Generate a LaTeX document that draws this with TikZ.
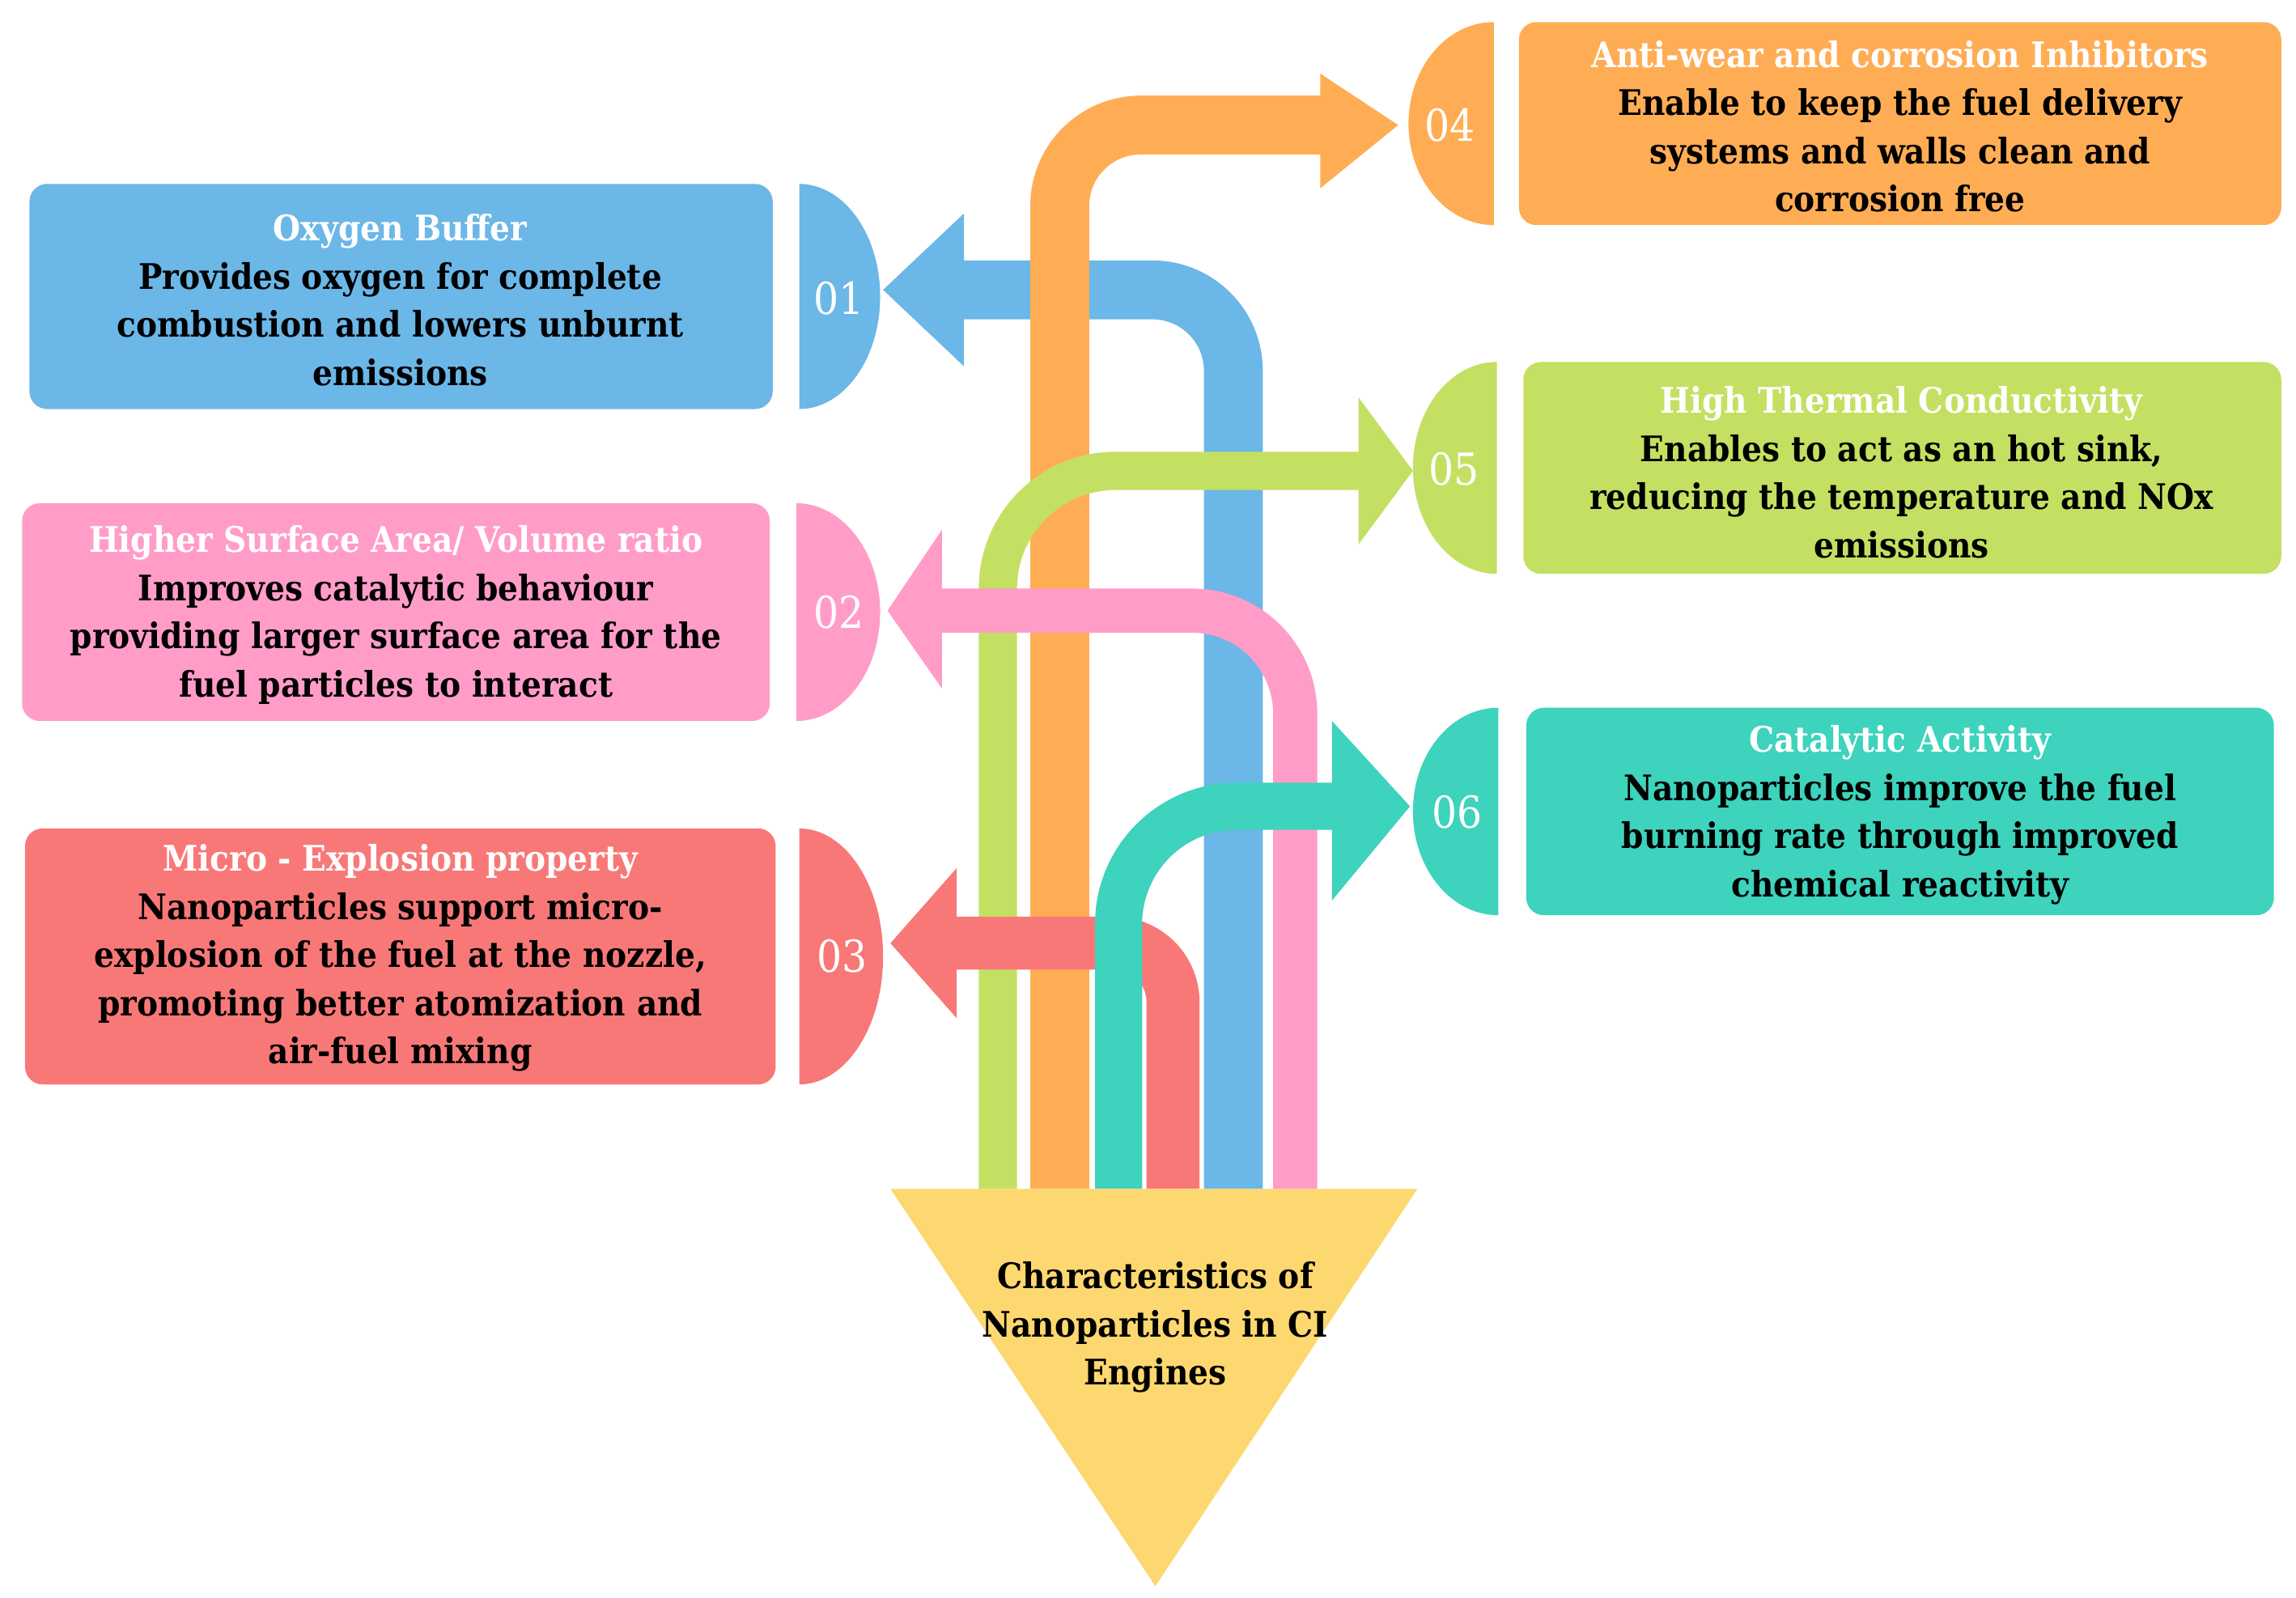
\documentclass[tikz,border=0pt]{standalone}
\usepackage{fontspec}
\setmainfont{DejaVu Serif Condensed}
\definecolor{cblue}{HTML}{6BB7E8}
\definecolor{cpink}{HTML}{FF9DC8}
\definecolor{cred}{HTML}{F87878}
\definecolor{corange}{HTML}{FFAD55}
\definecolor{cgreen}{HTML}{C4E062}
\definecolor{cteal}{HTML}{3DD3BC}
\definecolor{cyellow}{HTML}{FDD870}
\tikzset{
 box/.style={rounded corners=0.12cm},
 txt/.style={align=center,font=\fontsize{6.8}{9.3}\selectfont\bfseries,inner sep=0pt},
 num/.style={text=white,font=\fontsize{8.5}{10}\selectfont},
 band/.style={line cap=butt,rounded corners=#1},
}
\newcommand{\ttl}[1]{\textcolor{white}{#1}}
\begin{document}
\begin{tikzpicture}[x=0.01cm,y=-0.01cm]
\useasboundingbox (0,0) rectangle (1560,1086);
% boxes
\fill[box,cblue] (20,125) rectangle (525,278);
\fill[cblue] (543,125) -- (543,278) arc[start angle=90,end angle=-90,x radius=55,y radius=76.5] -- cycle;
\fill[box,cpink] (15,342) rectangle (523,490);
\fill[cpink] (541,342) -- (541,490) arc[start angle=90,end angle=-90,x radius=57,y radius=74] -- cycle;
\fill[box,cred] (17,563) rectangle (527,737);
\fill[cred] (543,563) -- (543,737) arc[start angle=90,end angle=-90,x radius=57,y radius=87] -- cycle;
\fill[box,corange] (1032,15) rectangle (1550,153);
\fill[corange] (1015,15) -- (1015,153) arc[start angle=90,end angle=270,x radius=58,y radius=69] -- cycle;
\fill[box,cgreen] (1035,246) rectangle (1550,390);
\fill[cgreen] (1017,246) -- (1017,390) arc[start angle=90,end angle=270,x radius=57,y radius=72] -- cycle;
\fill[box,cteal] (1037,481) rectangle (1545,622);
\fill[cteal] (1018,481) -- (1018,622) arc[start angle=90,end angle=270,x radius=58,y radius=70.5] -- cycle;
% numbers
\node[num] (n1) at (570,203) {01};
\node[num] (n2) at (570,416) {02};
\node[num] (n3) at (572,650) {03};
\node[num] (n4) at (985,85) {04};
\node[num] (n5) at (988,319) {05};
\node[num] (n6) at (990,552) {06};
% arrows
\draw[band=0.55cm,cblue,line width=0.4cm] (838,808) -- (838,197) -- (652,197);
\fill[cblue] (655,145) -- (600,197) -- (655,249) -- cycle;
\draw[band=0.55cm,corange,line width=0.4cm] (720,808) -- (720,85) -- (900,85);
\fill[corange] (897,50) -- (950,85) -- (897,128) -- cycle;
\draw[band=0.8cm,cgreen,line width=0.26cm] (678,808) -- (678,320) -- (926,320);
\fill[cgreen] (923,270) -- (960,320) -- (923,370) -- cycle;
\draw[band=0.7cm,cpink,line width=0.3cm] (880,808) -- (880,415) -- (637,415);
\fill[cpink] (640,360) -- (603,415) -- (640,468) -- cycle;
\draw[band=0.4cm,cred,line width=0.36cm] (797,808) -- (797,641) -- (647,641);
\fill[cred] (650,590) -- (605,641) -- (650,692) -- cycle;
\draw[band=0.8cm,cteal,line width=0.32cm] (760,808) -- (760,548) -- (908,548);
\fill[cteal] (905,490) -- (958,548) -- (905,612) -- cycle;
% triangle
\fill[cyellow] (605,808) -- (963,808) -- (785,1078) -- cycle;
\node[txt] (c) at (785,902) {Characteristics of\\Nanoparticles in CI\\Engines};
% texts
\node[txt] (t1) at (272,204) {\ttl{Oxygen Buffer}\\Provides oxygen for complete\\combustion and lowers unburnt\\emissions};
\node[txt] (t2) at (269,418) {\ttl{Higher Surface Area/ Volume ratio}\\Improves catalytic behaviour\\providing larger surface area for the\\fuel particles to interact};
\node[txt] (t3) at (272,651) {\ttl{Micro - Explosion property}\\Nanoparticles support micro-\\explosion of the fuel at the nozzle,\\promoting better atomization and\\air-fuel mixing};
\node[txt] (t4) at (1291,86) {\ttl{Anti-wear and corrosion Inhibitors}\\Enable to keep the fuel delivery\\systems and walls clean and\\corrosion free};
\node[txt] (t5) at (1292,321) {\ttl{High Thermal Conductivity}\\Enables to act as an hot sink,\\reducing the temperature and NOx\\emissions};
\node[txt] (t6) at (1291,554) {\ttl{Catalytic Activity}\\Nanoparticles improve the fuel\\burning rate through improved\\chemical reactivity};
\end{tikzpicture}
\end{document}
